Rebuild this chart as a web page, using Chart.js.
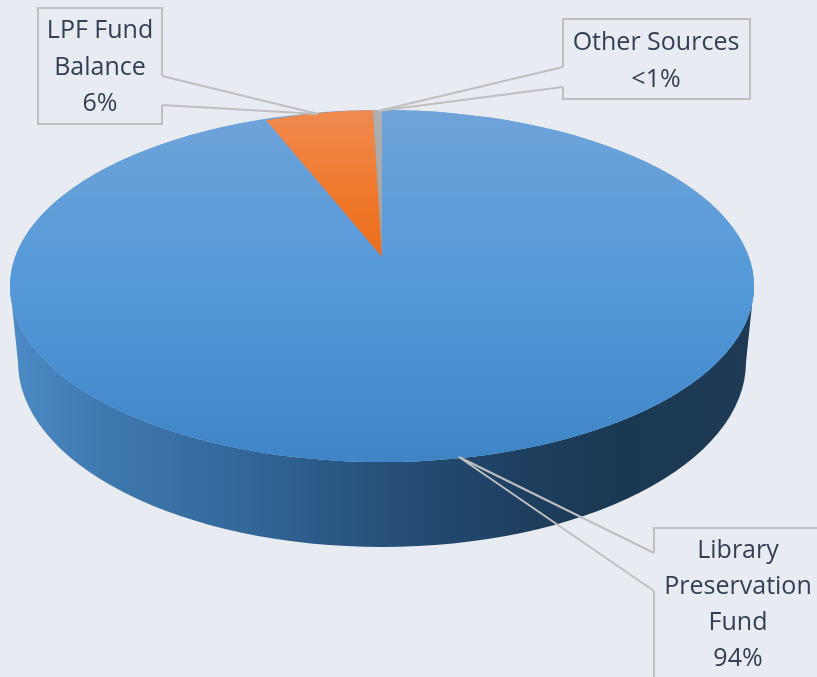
<!DOCTYPE html>
<html>
<head>
<meta charset="utf-8">
<title>Funding sources</title>
<script src="https://cdn.jsdelivr.net/npm/chart.js@4"></script>
<style>
  html, body { margin: 0; padding: 0; background: #e8ebf1; }
  canvas { display: block; }
</style>
</head>
<body>
<canvas id="pie" width="817" height="677"></canvas>
<script>
// Chart values
const categories = ["Library Preservation Fund", "LPF Fund Balance", "Other Sources"];
const shares = [94, 5.55, 0.45];
const shareLabels = ["94%", "6%", "<1%"];
const labelLines = [["Library", "Preservation", "Fund"], ["LPF Fund", "Balance"], ["Other Sources"]];

// Look of the flattened disc
const TOP_RX = 372;
const BACK_RX = 315;   // back slices are foreshortened, so their wedge sits on a smaller ellipse
const BACK_RY = 147;
const APEX_Y = 257;
const WALL_Y = 362;
const WALL_RX = 364;
const WALL_RY = 185;

// Callout boxes: box, leader start/end on the box edge, leader tip, text centre and line pitch
const callouts = [
  { box: [654, 528, 180, 170], a: [654, 553], b: [654, 591], tip: [459, 457], cx: 738, y: 551, pitch: 36 },
  { box: [38, 8, 124, 116], a: [162, 76], b: [162, 105], tip: [318, 114], cx: 100, y: 31, pitch: 36.5 },
  { box: [563, 19, 187, 80], a: [563, 67], b: [563, 87], tip: [378, 111], cx: 656, y: 43, pitch: 37 }
];

function sliceFill(ctx) {
  const chart = ctx.chart;
  const area = chart.chartArea;
  if (!area) return "#5b9bd5";
  const g2d = chart.ctx;
  if (ctx.dataIndex === 0) {
    const g = g2d.createLinearGradient(0, area.top, 0, area.bottom);
    g.addColorStop(0, "#6fa3da");
    g.addColorStop(0.5, "#5499d8");
    g.addColorStop(1, "#3f85c6");
    return g;
  }
  const cy = (area.top + area.bottom) / 2;
  const g = g2d.createLinearGradient(0, area.top, 0, cy);
  if (ctx.dataIndex === 1) {
    g.addColorStop(0, "#ef8a50");
    g.addColorStop(0.6, "#f0782a");
    g.addColorStop(1, "#ea6e1c");
  } else {
    g.addColorStop(0, "#b0b0b0");
    g.addColorStop(1, "#a0a0a0");
  }
  return g;
}

const disc3d = {
  id: "disc3d",
  beforeDatasetDraw(chart, args) {
    const ctx = chart.ctx;
    const arcs = args.meta.data;
    const blue = arcs[0];
    const cx = blue.x, cy = blue.y, r = blue.outerRadius;

    // side wall
    const wall = ctx.createLinearGradient(cx - TOP_RX, 0, cx + TOP_RX, 0);
    wall.addColorStop(0, "#4d8ac6");
    wall.addColorStop(0.13, "#3f78af");
    wall.addColorStop(0.3, "#33699b");
    wall.addColorStop(0.5, "#27507a");
    wall.addColorStop(0.68, "#1e3f60");
    wall.addColorStop(0.82, "#1b3853");
    wall.addColorStop(1, "#1e3a55");
    ctx.save();
    ctx.beginPath();
    ctx.ellipse(cx, cy, TOP_RX, r, 0, 0, Math.PI);
    ctx.lineTo(cx - WALL_RX, WALL_Y);
    ctx.ellipse(cx, WALL_Y, WALL_RX, WALL_RY, 0, Math.PI, 0, true);
    ctx.closePath();
    ctx.fillStyle = wall;
    ctx.fill();

    // full top face under the slices
    ctx.beginPath();
    ctx.ellipse(cx, cy, TOP_RX, r, 0, 0, Math.PI * 2);
    ctx.fillStyle = blue.options.backgroundColor;
    ctx.fill();
    ctx.restore();

    arcs.forEach(function (arc, i) {
      ctx.save();
      if (i === 0) {
        ctx.translate(cx, cy);
        ctx.scale(TOP_RX / r, 1);
      } else {
        ctx.translate(cx, APEX_Y);
        ctx.scale(BACK_RX / r, BACK_RY / r);
      }
      ctx.translate(-cx, -cy);
      arc.draw(ctx);
      ctx.restore();
    });
    return false;
  },
  afterDraw(chart) {
    const ctx = chart.ctx;
    ctx.save();
    ctx.strokeStyle = "#bfbfbf";
    ctx.lineWidth = 2;
    ctx.lineJoin = "miter";
    ctx.font = "25px 'Open Sans'";
    ctx.textAlign = "center";
    ctx.textBaseline = "middle";
    callouts.forEach(function (c, i) {
      const x = c.box[0], y = c.box[1], w = c.box[2], h = c.box[3];
      ctx.beginPath();
      ctx.rect(x, y, w, h);
      ctx.stroke();
      // open the box edge and run the leader to the slice
      ctx.fillStyle = "#e8ebf1";
      ctx.fillRect(c.a[0] - 1, c.a[1], 2, c.b[1] - c.a[1]);
      ctx.beginPath();
      ctx.moveTo(c.a[0], c.a[1]);
      ctx.lineTo(c.tip[0], c.tip[1]);
      ctx.lineTo(c.b[0], c.b[1]);
      ctx.stroke();
      ctx.fillStyle = "#333f55";
      labelLines[i].concat(shareLabels[i]).forEach(function (line, n) {
        ctx.fillText(line, c.cx, c.y + n * c.pitch);
      });
    });
    ctx.restore();
  }
};

new Chart(document.getElementById("pie"), {
  type: "pie",
  data: {
    labels: categories,
    datasets: [{
      data: shares,
      backgroundColor: sliceFill,
      borderWidth: 0
    }]
  },
  plugins: [disc3d],
  options: {
    responsive: false,
    animation: false,
    events: [],
    layout: { padding: { left: 206, right: 259, top: 110, bottom: 215 } },
    plugins: {
      legend: { display: false },
      tooltip: { enabled: false }
    }
  }
});
</script>
</body>
</html>
